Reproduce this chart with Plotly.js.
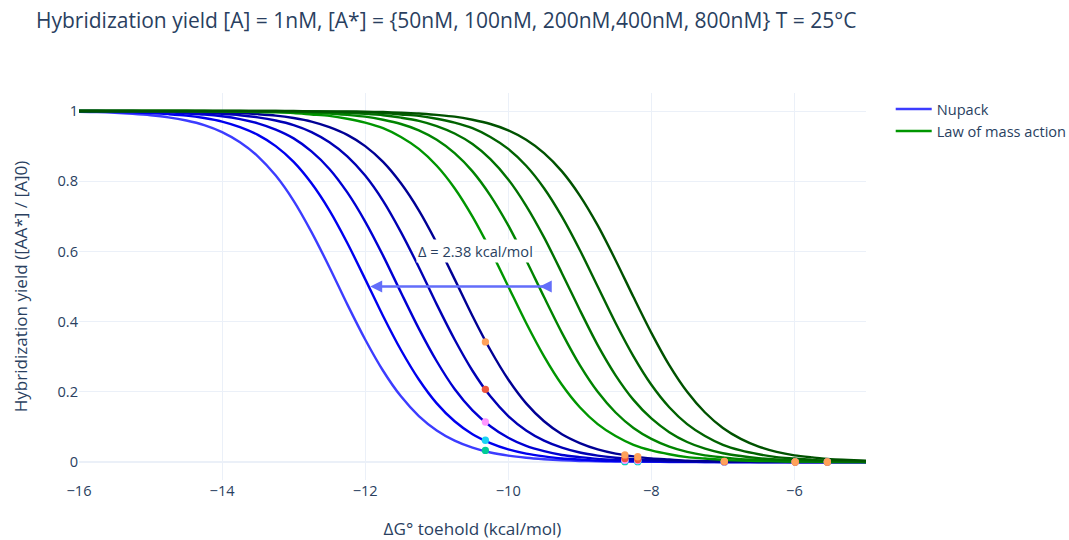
<!DOCTYPE html>
<html>
<head>
<meta charset="utf-8">
<script src="https://cdn.plot.ly/plotly-3.0.1.min.js"></script>
<style>html,body{margin:0;padding:0;background:#fff;}#chart{width:1069px;height:540px;}</style>
</head>
<body>
<div id="chart"></div>
<script>
// ΔG° toehold grid (kcal/mol)
const dG = [-16,-15.75,-15.5,-15.25,-15,-14.75,-14.5,-14.25,-14,-13.75,-13.5,-13.25,-13,-12.75,-12.5,-12.25,-12,-11.75,-11.5,-11.25,-11,-10.75,-10.5,-10.25,-10,-9.75,-9.5,-9.25,-9,-8.75,-8.5,-8.25,-8,-7.75,-7.5,-7.25,-7,-6.75,-6.5,-6.25,-6,-5.75,-5.5,-5.25,-5];

// Nupack curves, [A*] = 50, 100, 200, 400, 800 nM
const nupack50  = [0.998,0.997,0.995,0.992,0.988,0.982,0.973,0.960,0.940,0.911,0.871,0.816,0.744,0.655,0.555,0.449,0.349,0.260,0.187,0.131,0.090,0.061,0.041,0.027,0.018,0.012,0.008,0.005,0.003,0.002,0.001,0.001,0.001,0,0,0,0,0,0,0,0,0,0,0,0];
const nupack100 = [0.999,0.998,0.998,0.996,0.994,0.991,0.987,0.980,0.970,0.954,0.932,0.900,0.855,0.794,0.717,0.624,0.521,0.416,0.319,0.235,0.167,0.116,0.079,0.054,0.036,0.024,0.016,0.010,0.007,0.004,0.003,0.002,0.001,0.001,0.001,0,0,0,0,0,0,0,0,0,0];
const nupack200 = [0.999,0.999,0.999,0.998,0.997,0.996,0.993,0.990,0.985,0.977,0.965,0.947,0.922,0.885,0.835,0.768,0.685,0.588,0.483,0.380,0.287,0.208,0.147,0.102,0.069,0.046,0.031,0.020,0.014,0.009,0.006,0.004,0.003,0.002,0.001,0.001,0,0,0,0,0,0,0,0,0];
const nupack400 = [1,1,0.999,0.999,0.999,0.998,0.997,0.995,0.992,0.988,0.982,0.973,0.960,0.940,0.911,0.871,0.816,0.744,0.655,0.555,0.449,0.349,0.260,0.187,0.131,0.090,0.061,0.041,0.027,0.018,0.012,0.008,0.005,0.003,0.002,0.001,0.001,0.001,0,0,0,0,0,0,0];
const nupack800 = [1,1,1,1,0.999,0.999,0.998,0.998,0.996,0.994,0.991,0.987,0.980,0.970,0.954,0.932,0.900,0.855,0.794,0.717,0.624,0.521,0.416,0.319,0.235,0.167,0.116,0.079,0.054,0.036,0.024,0.016,0.010,0.007,0.004,0.003,0.002,0.001,0.001,0.001,0,0,0,0,0];

// Law of mass action curves, [A*] = 50, 100, 200, 400, 800 nM
const lma50  = [1,1,1,1,1,1,1,0.999,0.999,0.998,0.997,0.996,0.994,0.990,0.986,0.978,0.967,0.951,0.926,0.892,0.844,0.780,0.699,0.604,0.500,0.396,0.301,0.220,0.156,0.108,0.074,0.049,0.033,0.022,0.014,0.010,0.006,0.004,0.003,0.002,0.001,0.001,0,0,0];
const lma100 = [1,1,1,1,1,1,1,1,0.999,0.999,0.999,0.998,0.997,0.995,0.993,0.989,0.984,0.975,0.963,0.945,0.918,0.880,0.828,0.759,0.674,0.575,0.470,0.368,0.276,0.200,0.141,0.097,0.066,0.044,0.029,0.019,0.013,0.008,0.006,0.004,0.002,0.002,0.001,0.001,0];
const lma200 = [1,1,1,1,1,1,1,1,1,1,0.999,0.999,0.998,0.998,0.996,0.995,0.992,0.988,0.981,0.972,0.957,0.936,0.906,0.863,0.805,0.730,0.640,0.538,0.433,0.333,0.247,0.177,0.124,0.085,0.057,0.038,0.025,0.017,0.011,0.007,0.005,0.003,0.002,0.001,0.001];
const lma400 = [1,1,1,1,1,1,1,1,1,1,1,1,0.999,0.999,0.998,0.997,0.996,0.994,0.990,0.986,0.978,0.967,0.951,0.926,0.892,0.844,0.780,0.699,0.604,0.500,0.396,0.301,0.220,0.156,0.108,0.074,0.049,0.033,0.022,0.014,0.010,0.006,0.004,0.003,0.002];
const lma800 = [1,1,1,1,1,1,1,1,1,1,1,1,1,0.999,0.999,0.999,0.998,0.997,0.995,0.993,0.989,0.984,0.975,0.963,0.945,0.918,0.880,0.828,0.759,0.674,0.575,0.470,0.368,0.276,0.200,0.141,0.097,0.066,0.044,0.029,0.019,0.013,0.008,0.006,0.004];

// Marked points on the Nupack curves
const markX = [-10.32,-8.37,-8.19,-6.98,-5.99,-5.54];
const mark50  = [0.033,0.001,0.001,0,0,0];
const mark100 = [0.062,0.003,0.002,0,0,0];
const mark200 = [0.114,0.005,0.004,0,0,0];
const mark400 = [0.207,0.010,0.007,0.001,0,0];
const mark800 = [0.342,0.020,0.015,0.002,0,0];

// Annotation values: Δ arrow between the 100nM Nupack and 100nM mass-action curves at yield 0.5
const arrowFrom = -11.93, arrowTo = -9.56, arrowTail = -9.39, arrowY = 0.5;
const deltaLabel = 'Δ = 2.38 kcal/mol';
const labelX = -10.46, labelY = 0.6;

const seriesNames = ['Nupack', 'Law of mass action'];
const nupackSets = [nupack50, nupack100, nupack200, nupack400, nupack800];
const lmaSets = [lma50, lma100, lma200, lma400, lma800];
const blueColors = ['#3c3cff', '#0000ee', '#0000d2', '#0000b4', '#000094'];
const greenColors = ['#009600', '#008400', '#007200', '#006200', '#005200'];
const markSets = [mark50, mark100, mark200, mark400, mark800];
const markColors = ['#00cc96', '#19d3f3', '#ff97ff', '#ef553b', '#ffa15a'];

const LW = 2.4;
const traces = [];
nupackSets.forEach((ys, i) => traces.push({
  x: dG, y: ys, type: 'scatter', mode: 'lines', name: seriesNames[0],
  legendgroup: 'nupack', showlegend: i === 0,
  line: {color: blueColors[i], width: LW, shape: 'spline', smoothing: 0.8}
}));
lmaSets.forEach((ys, i) => traces.push({
  x: dG, y: ys, type: 'scatter', mode: 'lines', name: seriesNames[1],
  legendgroup: 'lma', showlegend: i === 0,
  line: {color: greenColors[i], width: LW, shape: 'spline', smoothing: 0.8}
}));
markSets.forEach((ys, i) => traces.push({
  x: markX, y: ys, type: 'scatter', mode: 'markers', showlegend: false,
  marker: {color: markColors[i], size: 7.3}
}));

const FS = 14.6;
const arrowColor = '#636efa';
const layout = {
  width: 1069, height: 540,
  margin: {l: 79, r: 203, t: 93, b: 60, autoexpand: false},
  paper_bgcolor: '#fff', plot_bgcolor: '#fff',
  font: {family: '"Open Sans", verdana, arial, sans-serif', size: FS, color: '#2a3f5f'},
  title: {
    text: 'Hybridization yield [A] = 1nM, [A*] = {50nM, 100nM, 200nM,400nM, 800nM} T = 25°C',
    x: 36/1069, xanchor: 'left', xref: 'container',
    y: 1 - 21/540, yanchor: 'middle', yref: 'container',
    font: {size: 21, color: '#2a3f5f'}
  },
  xaxis: {
    range: [-16, -5], gridcolor: '#EBF0F8', zeroline: false, showline: false, ticks: '',
    tickfont: {size: FS}, automargin: false,
    title: {text: 'ΔG° toehold (kcal/mol)', font: {size: 17.1}, standoff: 29}
  },
  yaxis: {
    range: [-0.0513, 1.0513], gridcolor: '#EBF0F8', zeroline: true,
    zerolinecolor: '#EBF0F8', zerolinewidth: 2.4, showline: false, ticks: '',
    tickfont: {size: FS}, automargin: false,
    title: {text: 'Hybridization yield ([AA*] / [A]0)', font: {size: 17.1}, standoff: 25}
  },
  legend: {x: 1.0314, y: 1, xanchor: 'left', yanchor: 'top', font: {size: FS},
           bgcolor: 'rgba(0,0,0,0)', tracegroupgap: 0, itemwidth: 36},
  annotations: [
    {x: arrowFrom, y: arrowY, ax: arrowTail, ay: arrowY, xref: 'x', yref: 'y', axref: 'x', ayref: 'y',
     text: '', showarrow: true, arrowhead: 2, arrowside: 'end',
     arrowwidth: 2.4, arrowsize: 1, arrowcolor: arrowColor},
    {x: arrowTo, y: arrowY, ax: arrowTail, ay: arrowY, xref: 'x', yref: 'y', axref: 'x', ayref: 'y',
     text: '', showarrow: true, arrowhead: 2, arrowside: 'end',
     arrowwidth: 2.4, arrowsize: 1, arrowcolor: arrowColor},
    {x: labelX, y: labelY, xref: 'x', yref: 'y', text: deltaLabel, showarrow: false,
     bgcolor: '#fff', font: {size: FS, color: '#2a3f5f'}}
  ],
  showlegend: true
};

Plotly.newPlot('chart', traces, layout, {displayModeBar: false, responsive: false});
</script>
</body>
</html>
